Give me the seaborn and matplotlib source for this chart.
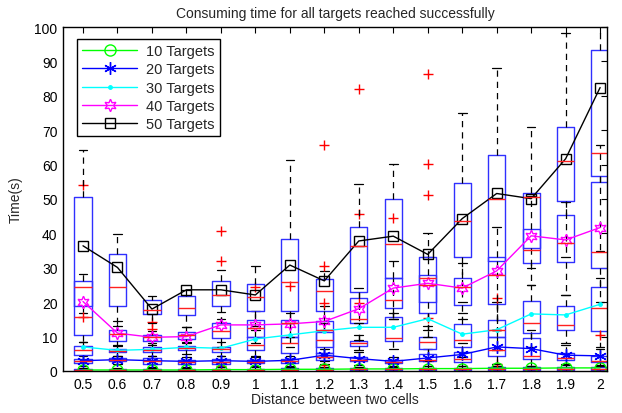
import matplotlib
matplotlib.use("Agg")
import matplotlib.pyplot as plt
import seaborn as sns
import pandas as pd

# distance between two cells (box positions)
positions = [0.5, 0.6, 0.7, 0.8, 0.9, 1.0, 1.1, 1.2, 1.3, 1.4, 1.5, 1.6, 1.7, 1.8, 1.9, 2.0]
tick_labels = ["0.5", "0.6", "0.7", "0.8", "0.9", "1", "1.1", "1.2", "1.3", "1.4",
               "1.5", "1.6", "1.7", "1.8", "1.9", "2"]

# ---- 10 targets ----
mean_10 = [0.3, 0.3, 0.3, 0.3, 0.4, 0.4, 0.5, 0.5, 0.6, 0.6, 0.7, 0.7, 0.8, 0.8, 0.9, 0.9]
q1_10 = [0.1, 0.1, 0.1, 0.1, 0.1, 0.1, 0.2, 0.2, 0.2, 0.2, 0.3, 0.3, 0.3, 0.3, 0.4, 0.4]
med_10 = [0.3, 0.3, 0.3, 0.3, 0.3, 0.3, 0.4, 0.4, 0.5, 0.5, 0.5, 0.6, 0.6, 0.6, 0.7, 0.7]
q3_10 = [0.6, 0.6, 0.6, 0.6, 0.7, 0.7, 0.8, 0.8, 0.9, 0.9, 1.0, 1.0, 1.1, 1.1, 1.2, 1.2]
lo_10 = [0.0, 0.0, 0.0, 0.0, 0.0, 0.0, 0.0, 0.0, 0.0, 0.0, 0.0, 0.0, 0.0, 0.0, 0.0, 0.0]
hi_10 = [1.0, 1.0, 1.0, 1.0, 1.1, 1.1, 1.2, 1.2, 1.3, 1.3, 1.4, 1.4, 1.5, 1.5, 1.6, 1.6]
fliers_10 = [[], [], [], [], [1.5], [], [], [1.8], [], [], [], [], [1.9], [], [], []]

# ---- 20 targets ----
mean_20 = [3.0, 3.3, 3.0, 2.8, 3.0, 2.8, 3.1, 4.6, 3.6, 2.8, 3.8, 4.8, 7.0, 6.5, 4.6, 4.4]
q1_20 = [2.3, 2.8, 2.0, 2.0, 2.0, 2.2, 2.3, 3.2, 2.8, 2.2, 2.8, 2.5, 4.5, 3.5, 3.2, 2.5]
med_20 = [2.8, 3.2, 2.8, 2.6, 2.7, 2.6, 2.8, 4.2, 3.3, 2.7, 3.3, 3.5, 6.2, 4.3, 3.9, 3.0]
q3_20 = [3.6, 3.8, 3.8, 3.3, 3.6, 3.2, 3.6, 5.2, 4.2, 3.3, 4.8, 5.5, 9.9, 9.5, 5.2, 4.5]
lo_20 = [1.5, 2.0, 1.2, 1.3, 1.2, 1.5, 1.5, 2.0, 1.8, 1.5, 1.5, 1.5, 2.0, 1.5, 2.0, 1.5]
hi_20 = [4.5, 4.5, 4.5, 4.2, 4.5, 4.0, 4.5, 6.5, 5.5, 4.2, 6.5, 8.0, 12.0, 12.0, 7.5, 6.5]
fliers_20 = [[], [], [], [], [], [], [], [], [], [], [], [], [], [], [], []]

# ---- 30 targets ----
mean_30 = [7.0, 6.0, 6.3, 6.9, 6.6, 9.3, 10.5, 11.7, 12.7, 12.7, 15.2, 10.7, 12.0, 16.6, 16.3, 19.4]
q1_30 = [4.7, 5.4, 5.5, 6.2, 5.5, 6.0, 5.2, 7.0, 7.4, 8.8, 6.5, 7.0, 9.9, 11.0, 11.9, 11.5]
med_30 = [6.2, 5.8, 6.2, 6.6, 6.3, 7.6, 8.1, 9.0, 8.0, 9.6, 8.5, 9.0, 12.0, 14.0, 13.4, 18.2]
q3_30 = [7.4, 6.5, 6.9, 7.3, 7.1, 9.9, 10.0, 11.3, 8.8, 15.8, 10.0, 13.7, 14.8, 20.3, 19.0, 24.3]
lo_30 = [3.0, 4.5, 4.5, 5.0, 4.3, 4.5, 3.0, 4.0, 6.0, 6.3, 3.0, 4.0, 6.0, 7.0, 8.0, 7.0]
hi_30 = [8.3, 7.5, 8.0, 8.5, 8.5, 12.0, 14.0, 14.0, 10.5, 17.0, 13.0, 17.0, 20.0, 25.0, 22.0, 27.0]
fliers_30 = [[], [], [], [], [], [], [], [], [], [], [15.4], [], [21.2], [], [], [10.5]]

# ---- 40 targets ----
mean_40 = [20.2, 11.0, 9.8, 10.0, 13.4, 13.4, 13.7, 14.4, 18.1, 24.1, 25.5, 24.1, 29.1, 39.3, 38.1, 41.7]
q1_40 = [19.0, 8.8, 8.8, 9.4, 9.6, 10.0, 10.0, 5.2, 13.9, 18.3, 17.0, 19.2, 19.4, 31.5, 31.8, 29.9]
med_40 = [24.3, 10.7, 9.8, 10.5, 11.7, 12.5, 13.9, 12.0, 15.2, 20.7, 25.0, 24.3, 28.0, 35.2, 37.1, 34.7]
q3_40 = [26.3, 12.0, 10.5, 11.2, 13.9, 14.7, 14.9, 14.6, 21.2, 27.1, 28.0, 27.1, 33.2, 41.4, 45.3, 55.0]
lo_40 = [17.0, 7.4, 7.5, 8.0, 7.0, 8.0, 7.0, 3.0, 9.0, 15.0, 10.0, 15.0, 12.0, 25.0, 22.0, 20.0]
hi_40 = [28.2, 14.4, 11.5, 12.8, 17.1, 17.5, 17.0, 19.0, 24.0, 32.0, 33.0, 31.5, 42.0, 51.0, 49.0, 65.8]
fliers_40 = [[15.8, 54.2], [], [12.2, 14.1], [], [], [24.5], [24.7], [19.9], [19.7, 45.5],
             [44.5], [], [], [], [], [], []]

# ---- 50 targets ----
mean_50 = [36.4, 30.1, 18.0, 23.6, 23.6, 22.1, 30.8, 26.2, 37.8, 39.2, 33.9, 44.3, 51.6, 50.1, 61.7, 82.4]
q1_50 = [10.5, 19.0, 16.6, 16.3, 18.9, 17.5, 17.3, 17.3, 22.9, 27.1, 20.0, 33.0, 32.0, 35.7, 49.5, 56.7]
med_50 = [15.8, 24.3, 17.8, 18.3, 22.1, 21.6, 26.0, 23.3, 36.4, 37.0, 27.0, 43.6, 50.1, 50.5, 61.0, 63.4]
q3_50 = [50.6, 33.9, 20.7, 21.9, 26.2, 25.4, 38.4, 26.8, 41.9, 50.1, 33.2, 54.7, 62.9, 51.8, 71.0, 93.2]
lo_50 = [8.3, 13.0, 14.0, 12.8, 15.0, 13.0, 10.0, 12.0, 14.0, 15.0, 12.0, 20.0, 12.0, 30.0, 33.0, 35.0]
hi_50 = [64.2, 39.9, 21.9, 23.5, 29.4, 30.6, 61.4, 29.0, 54.3, 60.3, 40.0, 74.9, 88.2, 70.8, 98.3, 104.0]
fliers_50 = [[], [], [], [], [32.0, 40.8], [], [], [30.5, 65.6], [82.0], [], [51.3, 60.3, 86.2],
             [], [], [], [], []]

series = [
    ("10 Targets", "#00ff00", "o", 8, q1_10, med_10, q3_10, lo_10, hi_10, fliers_10, mean_10),
    ("20 Targets", "#0000ff", (6, 2, 0), 9, q1_20, med_20, q3_20, lo_20, hi_20, fliers_20, mean_20),
    ("30 Targets", "#00ffff", ".", 5, q1_30, med_30, q3_30, lo_30, hi_30, fliers_30, mean_30),
    ("40 Targets", "#ff00ff", (6, 1, 0), 9, q1_40, med_40, q3_40, lo_40, hi_40, fliers_40, mean_40),
    ("50 Targets", "#000000", "s", 7, q1_50, med_50, q3_50, lo_50, hi_50, fliers_50, mean_50),
]

sns.set_style("white")
plt.rcParams["font.family"] = ["Liberation Sans", "DejaVu Sans"]
plt.rcParams["font.size"] = 10

fig = plt.figure(figsize=(6.22, 4.14), dpi=100)
ax = fig.add_axes([63 / 622, 1 - 372 / 414, 544 / 622, 344 / 414])

# box-and-whisker summaries for every group size
for name, color, marker, ms, q1, med, q3, lo, hi, fl, mn in series:
    stats = [
        {"q1": a, "med": b, "q3": c, "whislo": d, "whishi": e, "fliers": f}
        for a, b, c, d, e, f in zip(q1, med, q3, lo, hi, fl)
    ]
    ax.bxp(
        stats, positions=positions, widths=0.05, showfliers=True, manage_ticks=False,
        boxprops=dict(color="#3030ff", linewidth=1.0),
        medianprops=dict(color="#ff2020", linewidth=1.0),
        whiskerprops=dict(color="black", linewidth=0.9, linestyle=(0, (5, 4))),
        capprops=dict(color="black", linewidth=0.9),
        capwidths=0.025,
        flierprops=dict(marker="+", markeredgecolor="red", markersize=7, markeredgewidth=1.0),
    )

# mean consuming time per group size
for name, color, marker, ms, q1, med, q3, lo, hi, fl, mn in series:
    df = pd.DataFrame({"distance": positions, "time": mn})
    filled = marker in (".",)
    sns.lineplot(
        data=df, x="distance", y="time", ax=ax, color=color, label=name,
        marker=marker, markersize=ms, linewidth=1.0,
        markerfacecolor=color if filled else "none", markeredgecolor=color,
        markeredgewidth=1.0,
    )

ax.set_xlim(0.442, 2.020)
ax.set_ylim(0, 100)
ax.set_xticks(positions)
ax.set_xticklabels(tick_labels)
ax.set_yticks(range(0, 101, 10))
ax.tick_params(direction="in", length=4, width=0.8, top=True, right=True, labelsize=10,
               pad=4, colors="black")
for s in ax.spines.values():
    s.set_visible(True)
    s.set_color("black")
    s.set_linewidth(1.0)

ax.set_title("Consuming time for all targets reached successfully", fontsize=10, pad=7)
ax.set_xlabel("Distance between two cells", fontsize=10, labelpad=1)
ax.set_ylabel("Time(s)", fontsize=10, labelpad=8)

leg = ax.legend(loc="upper left", bbox_to_anchor=(0.012, 0.987), fontsize=10.5,
                frameon=True, fancybox=False, edgecolor="black", framealpha=1,
                handlelength=3.8, handletextpad=0.6, borderpad=0.35, labelspacing=0.3)
leg.get_frame().set_linewidth(1.0)

fig.savefig("out.png", dpi=100)
